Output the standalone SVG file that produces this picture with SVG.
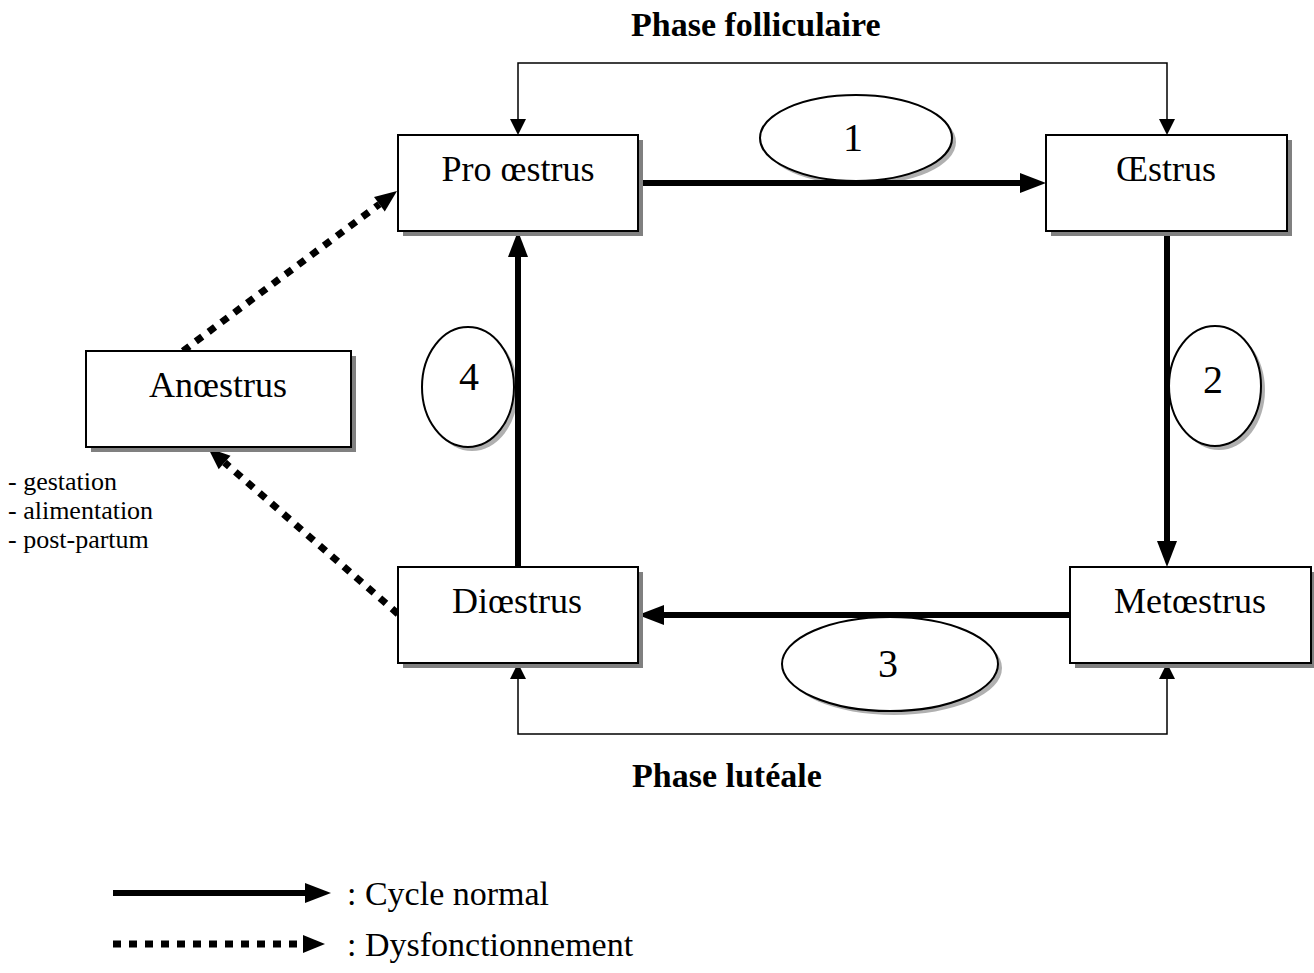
<svg xmlns="http://www.w3.org/2000/svg" width="1314" height="973" viewBox="0 0 1314 973">
<style>
.box{fill:#fff;stroke:#000;stroke-width:2}
.shadow{fill:#808080}
.eshadow{fill:#b0b0b0}
.oval{fill:#fff;stroke:#000;stroke-width:2}
.lbl{font-family:"Liberation Serif","Times New Roman",serif;font-size:36px;text-anchor:middle;fill:#000}
.num{font-family:"Liberation Serif","Times New Roman",serif;font-size:40px;text-anchor:middle;fill:#000}
.title{font-family:"Liberation Serif","Times New Roman",serif;font-size:34px;font-weight:bold;fill:#000}
.small{font-family:"Liberation Serif","Times New Roman",serif;font-size:26px;fill:#000}
.leg{font-family:"Liberation Serif","Times New Roman",serif;font-size:34px;fill:#000}
.thick{fill:none;stroke:#000;stroke-width:6;marker-end:url(#mThick)}
.thin{fill:none;stroke:#000;stroke-width:1.5;marker-start:url(#mThin);marker-end:url(#mThin)}
.dot{fill:none;stroke:#000;stroke-width:7;stroke-dasharray:8 8;marker-end:url(#mDot)}
</style>
<defs>
<marker id="mThick" markerUnits="userSpaceOnUse" markerWidth="26" markerHeight="20" refX="0" refY="10" orient="auto" overflow="visible"><path d="M0,0 L26,10 L0,20 Z" fill="#000"/></marker>
<marker id="mThin" markerUnits="userSpaceOnUse" markerWidth="16" markerHeight="16" refX="0" refY="8" orient="auto-start-reverse" overflow="visible"><path d="M0,0 L16,8 L0,16 Z" fill="#000"/></marker>
<marker id="mDot" markerUnits="userSpaceOnUse" markerWidth="22" markerHeight="18" refX="0" refY="9" orient="auto" overflow="visible"><path d="M0,0 L22,9 L0,18 Z" fill="#000"/></marker>
</defs>
<rect width="1314" height="973" fill="#fff"/>

<text class="title" x="631" y="36">Phase folliculaire</text>
<text class="title" x="632" y="787">Phase lutéale</text>

<g id="ovals">
<g id="oval1"><ellipse class="eshadow" cx="860" cy="142" rx="96" ry="43"/><ellipse class="oval" cx="856" cy="138" rx="96" ry="43"/><text class="num" x="853" y="151">1</text></g>
<g id="oval2"><ellipse class="eshadow" cx="1219" cy="390" rx="46" ry="60"/><ellipse class="oval" cx="1215" cy="386" rx="46" ry="60"/><text class="num" x="1213" y="393">2</text></g>
<g id="oval3"><ellipse class="eshadow" cx="894" cy="668" rx="108" ry="47"/><ellipse class="oval" cx="890" cy="664" rx="108" ry="47"/><text class="num" x="888" y="677">3</text></g>
<g id="oval4"><ellipse class="eshadow" cx="472" cy="391" rx="46" ry="60"/><ellipse class="oval" cx="468" cy="387" rx="46" ry="60"/><text class="num" x="469" y="390">4</text></g>
</g>

<g id="connectors">
<path class="thin" d="M518,119 V63 H1167 V119"/>
<path class="thin" d="M518,679 V734 H1167 V679"/>
<path class="thick" d="M638,183 H1020"/>
<path class="thick" d="M1167,231 V541"/>
<path class="thick" d="M1070,615 H664"/>
<path class="thick" d="M518,567 V257"/>
<path class="dot" d="M183,351 L379.4,204.2"/>
<path class="dot" d="M398,614 L224.6,462.5"/>
</g>

<g id="n-proestrus"><rect class="shadow" x="403" y="140" width="240" height="96"/><rect class="box" x="398" y="135" width="240" height="96"/><text class="lbl" x="518" y="181">Pro œstrus</text></g>
<g id="n-oestrus"><rect class="shadow" x="1051" y="140" width="241" height="96"/><rect class="box" x="1046" y="135" width="241" height="96"/><text class="lbl" x="1166" y="181">Œstrus</text></g>
<g id="n-anoestrus"><rect class="shadow" x="91" y="356" width="265" height="96"/><rect class="box" x="86" y="351" width="265" height="96"/><text class="lbl" x="218" y="397">Anœstrus</text></g>
<g id="n-dioestrus"><rect class="shadow" x="403" y="572" width="240" height="96"/><rect class="box" x="398" y="567" width="240" height="96"/><text class="lbl" x="517" y="613">Diœstrus</text></g>
<g id="n-metoestrus"><rect class="shadow" x="1075" y="572" width="241" height="96"/><rect class="box" x="1070" y="567" width="241" height="96"/><text class="lbl" x="1190" y="613">Metœstrus</text></g>

<g id="causes">
<text class="small" x="8" y="490">- gestation</text>
<text class="small" x="8" y="519">- alimentation</text>
<text class="small" x="8" y="548">- post-partum</text>
</g>

<g id="legend">
<path class="thick" d="M113,893 H305"/>
<text class="leg" x="347" y="905">: Cycle normal</text>
<path class="dot" d="M113,944 H303"/>
<text class="leg" x="347" y="956">: Dysfonctionnement</text>
</g>
</svg>
